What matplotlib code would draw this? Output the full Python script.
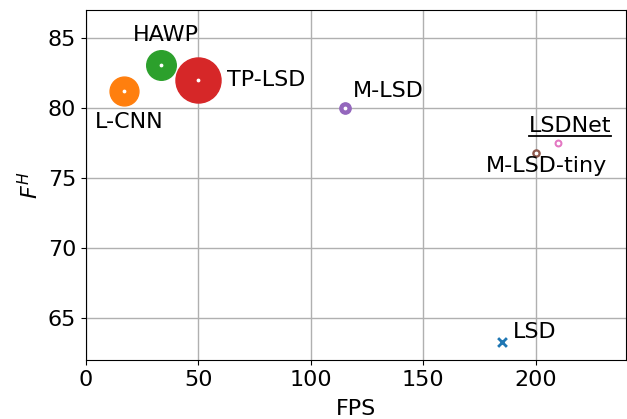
import matplotlib
matplotlib.use('Agg')
import matplotlib.pyplot as plt

# Methods, speed (FPS), accuracy (F^H) and model size (M params) for bubble area
methods = ['LSD', 'L-CNN', 'HAWP', 'TP-LSD', 'M-LSD', 'M-LSD-tiny', 'LSDNet']
fps = [185.2, 16.9, 33.3, 50.0, 115.4, 200.3, 210.0]
fh = [63.3, 81.2, 83.1, 82.0, 80.0, 76.8, 77.5]
params = [0.0, 9.8, 10.3, 23.9, 1.5, 0.6, 0.5]

# label anchor points (data coords)
label_x = [189.8, 4.0, 20.9, 62.7, 118.7, 177.8, 196.9]
label_y = [63.6, 78.6, 84.8, 81.6, 80.8, 75.4, 78.3]

fig = plt.figure(figsize=(6.27, 4.19), dpi=100)
ax = fig.add_axes([0.137, 0.141, 0.861, 0.835])

for i, name in enumerate(methods):
    if name == 'LSD':
        ax.scatter(fps[i], fh[i], marker='x', s=40, linewidths=2, zorder=3)
    else:
        ax.scatter(fps[i], fh[i], s=params[i] * 44, zorder=3)
        ax.scatter(fps[i], fh[i], s=3, color='white', zorder=4)

texts = []
for i, name in enumerate(methods):
    t = ax.text(label_x[i], label_y[i], name, fontsize=16, ha='left', va='baseline')
    texts.append(t)

ax.set_xlim(0, 240)
ax.set_ylim(62, 87)
ax.set_xticks([0, 50, 100, 150, 200])
ax.set_yticks([65, 70, 75, 80, 85])
ax.tick_params(labelsize=16)
ax.set_xlabel('FPS', fontsize=16, labelpad=7)
ax.set_ylabel('$F^H$', fontsize=16, labelpad=4)
ax.grid(True, color='#b0b0b0', linewidth=1)
ax.set_axisbelow(True)

# underline the LSDNet label
fig.canvas.draw()
bb = texts[methods.index('LSDNet')].get_window_extent()
inv = ax.transData.inverted()
(x0, y0), (x1, _) = inv.transform([(bb.x0, bb.y0), (bb.x1, bb.y0)])
ax.plot([x0, x1], [y0, y0], color='black', linewidth=1.3, zorder=5)

fig.savefig('out.png', dpi=100)
